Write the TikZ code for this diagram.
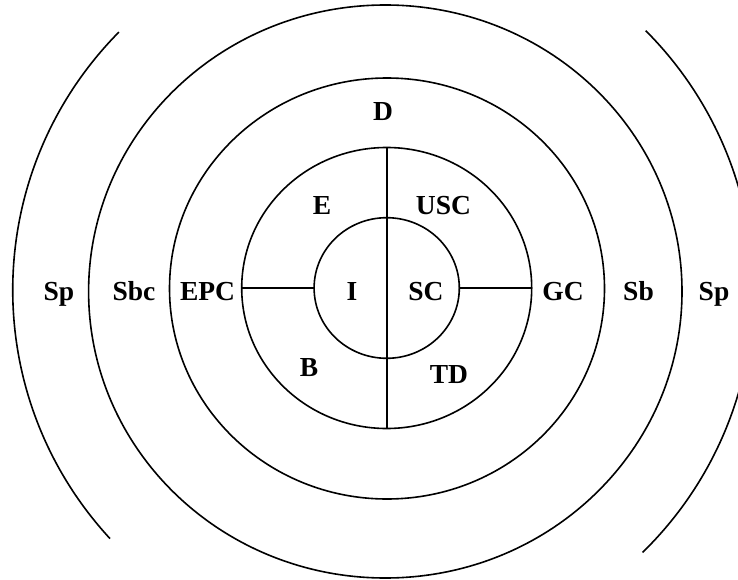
\documentclass[tikz,border=0pt]{standalone}
\usepackage{fontspec}
\setmainfont{Liberation Serif}
\begin{document}
\begin{tikzpicture}[x=1pt,y=-1pt,
  ring/.style={draw=black,line width=1.6pt},
  lbl/.style={anchor=base,inner sep=0pt,font=\fontsize{27.5}{30}\selectfont\bfseries}]
\useasboundingbox (0,0) rectangle (738,580);
\clip (0,0) rectangle (738,580);

% concentric rings
\draw[ring] (386.7,288) ellipse [x radius=72.6, y radius=70.3];
\draw[ring] (386.7,288) ellipse [x radius=145, y radius=140.5];
\draw[ring] (387,288.5) ellipse [x radius=217.5, y radius=210.5];
\draw[ring] (385.3,291.5) ellipse [x radius=296.7, y radius=286.5];

% outer partial arcs
\draw[ring] (383,290) ++(135.5:370.3 and -368) arc [start angle=135.5, end angle=222.5, x radius=370.3, y radius=-368];
\draw[ring] (383,290) ++(-45.5:370.3 and -368) arc [start angle=-45.5, end angle=44.8, x radius=370.3, y radius=-368];

% dividing lines
\coordinate (vt) at (386.7,147.5);
\coordinate (vb) at (386.7,428.5);
\coordinate (hl1) at (241.7,288);
\coordinate (hl2) at (314.1,288);
\coordinate (hr1) at (459.3,288);
\coordinate (hr2) at (531.7,288);
\draw[ring] (vt) -- (vb);
\draw[ring] (hl1) -- (hl2);
\draw[ring] (hr1) -- (hr2);

% labels
\node[lbl] (spl) at (59,300) {Sp};
\node[lbl] (sbc) at (134,300) {Sbc};
\node[lbl] (epc) at (207.5,300) {EPC};
\node[lbl] (i) at (352,300) {I};
\node[lbl] (sc) at (426,300) {SC};
\node[lbl] (gc) at (563,300) {GC};
\node[lbl] (sb) at (638.5,300) {Sb};
\node[lbl] (spr) at (714,300) {Sp};
\node[lbl] (d) at (383,121) {D};
\node[lbl] (e) at (322,214) {E};
\node[lbl] (usc) at (443.5,214) {USC};
\node[lbl] (b) at (309,376) {B};
\node[lbl] (td) at (449,383) {TD};
\end{tikzpicture}
\end{document}
